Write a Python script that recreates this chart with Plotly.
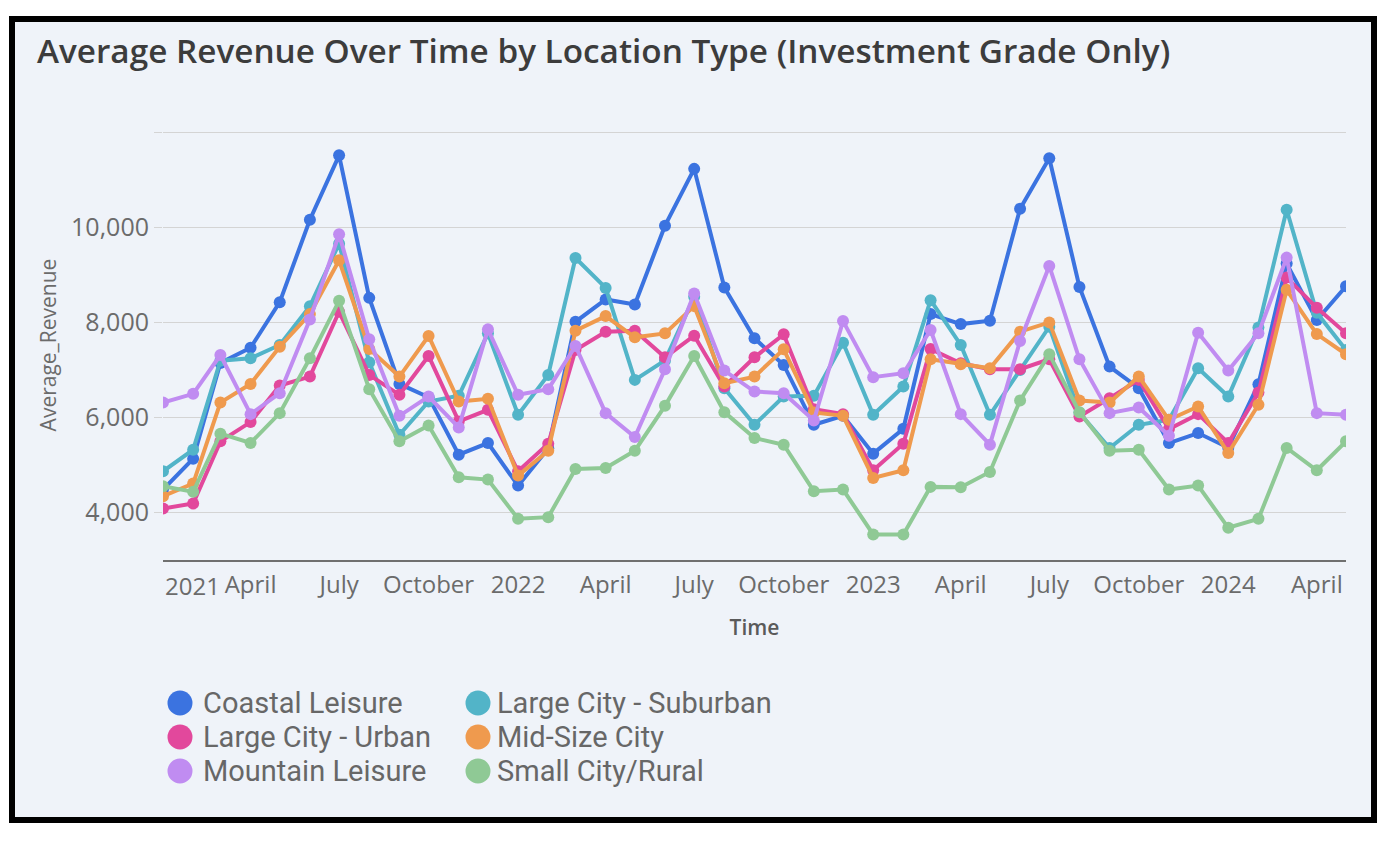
import pandas as pd
import plotly.graph_objects as go

# ---- data (monthly, Jan 2021 .. May 2024) ----
months = pd.date_range("2021-01-01", periods=41, freq="MS")

coastal_leisure = [4483, 5133, 7147, 7468, 8427, 10162, 11517, 8517, 6706, 6427, 5217, 5462,
                   4566, 5350, 8014, 8483, 8378, 10036, 11232, 8735, 7665, 7105, 5846, 6035,
                   5238, 5762, 8175, 7965, 8035, 10393, 11454, 8748, 7070, 6616, 5462, 5672,
                   5364, 6700, 9238, 8049, 8762]
large_city_suburban = [4867, 5322, 7195, 7245, 7525, 8343, 9658, 7161, 5637, 6335, 6455, 7770,
                       6056, 6896, 9356, 8727, 6791, 7200, 8538, 6616, 5846, 6441, 6455, 7573,
                       6056, 6651, 8469, 7525, 6056, 7000, 7909, 6100, 5357, 5846, 5950, 7035,
                       6441, 7895, 10372, 8203, 7420]
large_city_urban = [4084, 4189, 5497, 5902, 6671, 6860, 8224, 6895, 6476, 7294, 5916, 6161,
                    4867, 5448, 7420, 7805, 7825, 7266, 7720, 6651, 7266, 7749, 6175, 6070,
                    4888, 5448, 7441, 7140, 7015, 7015, 7224, 6021, 6406, 6791, 5756, 6070,
                    5462, 6524, 8944, 8308, 7770]
mid_size_city = [4342, 4608, 6315, 6706, 7489, 8175, 9308, 7441, 6860, 7714, 6335, 6392,
                 4776, 5301, 7826, 8133, 7686, 7770, 8343, 6721, 6860, 7434, 6105, 6035,
                 4728, 4888, 7224, 7119, 7035, 7805, 8001, 6357, 6315, 6860, 5951, 6231,
                 5252, 6266, 8686, 7756, 7330]
mountain_leisure = [6315, 6497, 7315, 6070, 6511, 8063, 9854, 7644, 6035, 6441, 5790, 7854,
                    6476, 6595, 7504, 6091, 5588, 7015, 8609, 6987, 6546, 6511, 5937, 8028,
                    6847, 6931, 7840, 6070, 5427, 7609, 9189, 7224, 6091, 6210, 5615, 7784,
                    6987, 7770, 9364, 6091, 6056]
small_city_rural = [4552, 4434, 5658, 5462, 6091, 7245, 8455, 6595, 5497, 5832, 4741, 4692,
                    3867, 3902, 4917, 4938, 5301, 6245, 7294, 6112, 5567, 5427, 4448, 4483,
                    3538, 3538, 4539, 4531, 4854, 6357, 7329, 6112, 5301, 5322, 4483, 4566,
                    3678, 3867, 5357, 4888, 5497]

series_names = ["Coastal Leisure", "Large City - Suburban", "Large City - Urban",
                "Mid-Size City", "Mountain Leisure", "Small City/Rural"]
series_values = [coastal_leisure, large_city_suburban, large_city_urban,
                 mid_size_city, mountain_leisure, small_city_rural]
series_colors = ["#3b73e0", "#52b4c8", "#e2489c", "#ef9a4e", "#c08cf1", "#8fc995"]

tick_dates = ["2021-01-01", "2021-04-01", "2021-07-01", "2021-10-01",
              "2022-01-01", "2022-04-01", "2022-07-01", "2022-10-01",
              "2023-01-01", "2023-04-01", "2023-07-01", "2023-10-01",
              "2024-01-01", "2024-04-01"]
tick_labels = ["2021", "April", "July", "October", "2022", "April", "July", "October",
               "2023", "April", "July", "October", "2024", "April"]
y_tickvals = [4000, 6000, 8000, 10000, 12000]
y_ticktext = ["4,000", "6,000", "8,000", "10,000", ""]

title_text = "Average Revenue Over Time by Location Type (Investment Grade Only)"

# ---- geometry (page pixels; the page body has an 8px margin) ----
OFF = 8
W, H = 1398 - OFF, 844 - OFF
PLOT_L, PLOT_R, PLOT_T, PLOT_B = 163, 1346, 130, 560   # page px
L = PLOT_L - OFF
T = PLOT_T - OFF
R = W - (PLOT_R - OFF)
B = H - (PLOT_B - OFF)
PW, PH = PLOT_R - PLOT_L, PLOT_B - PLOT_T
PANEL = "#eff3f9"
FONT = "Open Sans"
TICK_FONT = dict(family=FONT, size=24, color="#6b6b6b")


def px_x(px):
    return (px - PLOT_L) / PW


def px_y(py):
    return (PLOT_B - py) / PH


fig = go.Figure()
for name, vals, col in zip(series_names, series_values, series_colors):
    fig.add_trace(go.Scatter(
        x=months, y=vals, name=name, mode="lines+markers",
        line=dict(color=col, width=4),
        marker=dict(color=col, size=12),
        showlegend=False,
    ))

# first tick label is drawn flush-left (as in the original) by an annotation
ticktext = [""] + tick_labels[1:]
fig.add_annotation(xref="x", yref="paper", x=tick_dates[0], y=px_y(585),
                   xanchor="left", yanchor="middle", showarrow=False,
                   text=tick_labels[0], font=TICK_FONT)

fig.update_xaxes(
    type="date", range=["2021-01-01", "2024-05-01"],
    tickvals=tick_dates, ticktext=ticktext, tickangle=0,
    showgrid=False, showline=True, linecolor="#707070", linewidth=2,
    ticks="outside", ticklen=2, tickcolor=PANEL,
    tickfont=TICK_FONT,
    title=dict(text="Time", font=dict(family=FONT, size=21, color="#5a5a5a", weight=600),
               standoff=22),
)
fig.update_yaxes(
    range=[3000, 12050], tickvals=y_tickvals, ticktext=y_ticktext,
    showgrid=True, gridcolor="#d4d4d4", gridwidth=1.2, zeroline=False, showline=False,
    ticks="outside", ticklen=8, tickcolor="#d4d4d4",
    tickfont=dict(family=FONT, size=25, color="#6b6b6b"),
    title=dict(text="Average_Revenue", font=dict(family=FONT, size=21, color="#6b6b6b"),
               standoff=8),
)

# framed panel
fig.add_shape(type="rect", xref="paper", yref="paper",
              x0=px_x(12), x1=px_x(1374), y0=px_y(820), y1=px_y(19),
              line=dict(color="black", width=6), fillcolor=PANEL, layer="below")

# legend (2 columns x 3 rows)
col_circle = [180, 478]
col_text = [201, 495]
row_y = [703, 737, 771]
for i, (name, col) in enumerate(zip(series_names, series_colors)):
    r, c = divmod(i, 2)
    cx, cy = px_x(col_circle[c]), px_y(row_y[r])
    fig.add_shape(type="circle", xref="paper", yref="paper",
                  xsizemode="pixel", ysizemode="pixel", xanchor=cx, yanchor=cy,
                  x0=-12.5, x1=12.5, y0=-12.5, y1=12.5,
                  fillcolor=col, line=dict(width=0))
    fig.add_annotation(xref="paper", yref="paper", x=px_x(col_text[c]), y=cy,
                       xanchor="left", yanchor="middle", showarrow=False,
                       text=name, font=dict(family="Roboto", size=29, color="#676767"))

fig.update_layout(
    width=W, height=H,
    margin=dict(l=L, r=R, t=T, b=B, autoexpand=False),
    paper_bgcolor="white", plot_bgcolor=PANEL,
    title=dict(text=title_text, xref="container", yref="container",
               x=(37 - OFF) / W, xanchor="left", y=1 - (51 - OFF) / H, yanchor="middle",
               font=dict(family=FONT, size=33.3, color="#3c3c3c", weight=600)),
    showlegend=False,
)

fig.write_html("out.html")
